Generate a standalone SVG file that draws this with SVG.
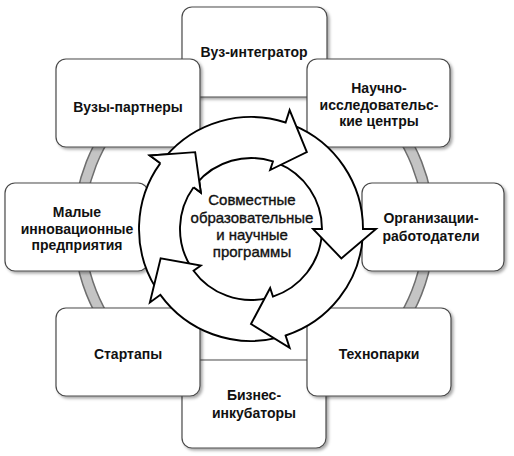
<svg xmlns="http://www.w3.org/2000/svg" width="514" height="456" viewBox="0 0 514 456">
<defs>
<filter id="sh" x="-10%" y="-10%" width="125%" height="130%">
<feDropShadow dx="2" dy="2" stdDeviation="1.5" flood-color="#000" flood-opacity="0.35"/>
</filter>
<style>
.box{fill:#fff;stroke:#4a4a4a;stroke-width:1.2;filter:url(#sh)}
.lbl{font-family:"Liberation Sans",Arial,sans-serif;font-weight:bold;font-size:14px;fill:#111;text-anchor:middle}
.ctr{font-family:"Liberation Sans",Arial,sans-serif;font-size:15px;fill:#111;stroke:#111;stroke-width:0.35;text-anchor:middle}
.arr{fill:#fff;stroke:#000;stroke-width:1.9;stroke-linejoin:miter}
</style>
</defs>
<rect width="514" height="456" fill="#fff"/>
<g id="ring">
<circle cx="254" cy="228" r="175" fill="none" stroke="#6e6e6e" stroke-width="12"/>
<circle cx="254" cy="228" r="175" fill="none" stroke="#c4c4c4" stroke-width="9"/>
</g>
<g id="n-vuz-integrator">
<rect class="box" x="182" y="7" width="145" height="90" rx="10"/>
<text class="lbl" x="254" y="57">Вуз-интегратор</text>
</g>
<g id="n-biznes">
<rect class="box" x="182" y="360" width="144" height="88" rx="10"/>
<text class="lbl" x="254" y="400">Бизнес-</text>
<text class="lbl" x="254" y="418">инкубаторы</text>
</g>
<g id="n-vuzy-partnery">
<rect class="box" x="56" y="59" width="144" height="88" rx="10"/>
<text class="lbl" x="128" y="112">Вузы-партнеры</text>
</g>
<g id="n-nauchno">
<rect class="box" x="307" y="59" width="143" height="88" rx="10"/>
<text class="lbl" x="379" y="93">Научно-</text>
<text class="lbl" x="379" y="109.5">исследовательс-</text>
<text class="lbl" x="379" y="126">кие центры</text>
</g>
<g id="n-malye">
<rect class="box" x="5" y="183" width="143" height="88" rx="10"/>
<text class="lbl" x="77" y="217">Малые</text>
<text class="lbl" x="77" y="233.5">инновационные</text>
<text class="lbl" x="77" y="250">предприятия</text>
</g>
<g id="n-organizacii">
<rect class="box" x="362" y="183" width="142" height="88" rx="10"/>
<text class="lbl" x="431" y="223">Организации-</text>
<text class="lbl" x="431" y="241">работодатели</text>
</g>
<g id="n-startapy">
<rect class="box" x="56" y="308" width="144" height="88" rx="10"/>
<text class="lbl" x="128" y="359">Стартапы</text>
</g>
<g id="n-tehnoparki">
<rect class="box" x="307" y="308" width="144" height="88" rx="10"/>
<text class="lbl" x="379" y="359">Технопарки</text>
</g>
<g id="connectors">
<path class="arr" d="M156.02,288.35 A112,112 0 0 1 160.39,163.17 L149.87,155.52 L195.16,152.14 L200.84,192.56 L193.56,187.27 A71,71 0 0 0 190.79,266.62 Z"/>
<path class="arr" d="M278.09,337.67 A112,112 0 0 1 160.39,294.83 L149.87,302.48 L160.65,258.36 L200.84,265.44 L193.56,270.73 A71,71 0 0 0 268.17,297.89 Z"/>
<path class="arr" d="M362.73,236.82 A112,112 0 0 1 285.61,335.52 L289.63,347.89 L251,324 L270.16,287.97 L272.94,296.53 A71,71 0 0 0 321.83,233.96 Z"/>
<path class="arr" d="M292.96,125.15 A112,112 0 0 1 363,229 L376,229 L341.35,258.36 L313,229 L322,229 A71,71 0 0 0 277.60,163.17 Z"/>
<path class="arr" d="M165.21,157.01 A112,112 0 0 1 285.61,122.48 L289.63,110.11 L306.84,152.14 L270.16,170.03 L272.94,161.47 A71,71 0 0 0 196.61,183.36 Z"/>
<path d="M160.39,163.17 L149.87,155.52 L195.16,152.14 L200.84,192.56 L193.56,187.27 Z" fill="#fff" stroke="none"/>
<path d="M160.39,163.17 L149.87,155.52 L195.16,152.14 L200.84,192.56 L193.56,187.27" fill="none" stroke="#000" stroke-width="1.9"/>
</g>
<g id="n-center">
<text class="ctr" x="252" y="205">Совместные</text>
<text class="ctr" x="252" y="223">образовательные</text>
<text class="ctr" x="252" y="240">и научные</text>
<text class="ctr" x="252" y="257">программы</text>
</g>
</svg>
